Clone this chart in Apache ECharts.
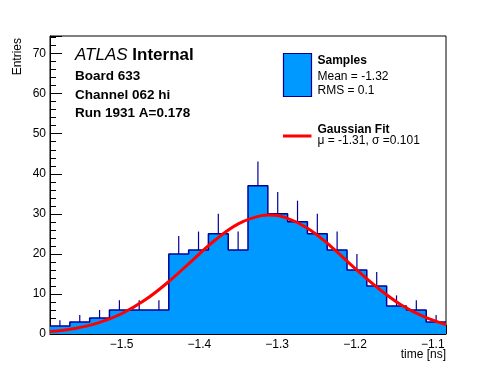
<!DOCTYPE html>
<html>
<head>
<meta charset="utf-8">
<script src="https://cdn.jsdelivr.net/npm/echarts@6/dist/echarts.min.js"></script>
<style>html,body{margin:0;padding:0;background:#fff;}#c{width:496px;height:372px;}</style>
</head>
<body>
<div id="c"></div>
<script>
// ---- data ----
const binEdges = [-1.592, -1.5665, -1.541, -1.5156, -1.49, -1.4647, -1.4393, -1.4138, -1.3884, -1.3629,
                  -1.3375, -1.312, -1.2866, -1.2611, -1.2357, -1.2102, -1.1848, -1.1593, -1.1339, -1.1084, -1.083];
const counts = [2, 3, 4, 6, 6, 6, 20, 21, 25, 21, 37, 30, 28, 25, 21, 16, 12, 7, 6, 3];
const errors = [1.41, 1.73, 2.0, 2.45, 2.45, 2.45, 4.47, 4.58, 5.0, 4.58, 6.08, 5.48, 5.29, 5.0, 4.58, 4.0, 3.46, 2.65, 2.45, 1.73];
const fitX = [-1.592, -1.56, -1.53, -1.50, -1.47, -1.44, -1.41, -1.38, -1.35, -1.32, -1.31, -1.29, -1.26, -1.23, -1.20, -1.17, -1.14, -1.11, -1.083];
const fitY = [0.60, 1.39, 2.77, 5.06, 8.47, 12.98, 18.2, 23.4, 27.5, 29.55, 29.7, 29.1, 26.3, 21.7, 16.4, 11.4, 7.2, 4.2, 2.38];
const yTicks = [0, 10, 20, 30, 40, 50, 60, 70];
const xRange = [-1.592, -1.083];
const yRange = [0, 74.4];

// ---- build series data ----
const stepData = counts.map((c, i) => [binEdges[i], c]);
stepData.push([binEdges[binEdges.length - 1], counts[counts.length - 1]]);
const errData = counts.map((c, i) => [(binEdges[i] + binEdges[i + 1]) / 2, c, errors[i]]);
const fitData = fitX.map((x, i) => [x, fitY[i]]);

const FONT = 'Liberation Sans, Arial, Helvetica, sans-serif';
const NAVY = '#000099';
const BLUE = '#0099ff';

const chart = echarts.init(document.getElementById('c'), null, {renderer: 'canvas'});
const fmt = v => (Math.abs(v) < 1e-9 ? '0' : String(v)).replace('-', '\u2212');

chart.setOption({
  animation: false,
  backgroundColor: '#fff',
  grid: {left: 50, right: 50, top: 36, bottom: 38, show: true, borderColor: '#000', borderWidth: 1, backgroundColor: 'transparent', containLabel: false},
  xAxis: {
    type: 'value', min: xRange[0], max: xRange[1], splitNumber: 5,
    axisLine: {show: true, onZero: false, lineStyle: {color: '#000', width: 1}},
    axisTick: {show: true, inside: true, length: 9, lineStyle: {color: '#000'}},
    minorTick: {show: true, splitNumber: 5, length: 4.5, lineStyle: {color: '#000'}},
    splitLine: {show: false},
    axisLabel: {color: '#000', fontSize: 12, fontFamily: FONT, margin: 5, showMinLabel: false, showMaxLabel: false,
      formatter: v => fmt(Number(v).toFixed(1))}
  },
  yAxis: {
    type: 'value', min: yRange[0], max: yRange[1], interval: 10,
    axisLine: {show: true, lineStyle: {color: '#000', width: 1}},
    axisTick: {show: true, inside: true, length: 12, lineStyle: {color: '#000'}},
    minorTick: {show: true, splitNumber: 5, length: 6, lineStyle: {color: '#000'}},
    splitLine: {show: false},
    axisLabel: {color: '#000', fontSize: 12, fontFamily: FONT, margin: 4, showMaxLabel: false,
      formatter: v => (yTicks.indexOf(Math.round(v)) >= 0 && Math.abs(v - Math.round(v)) < 1e-6) ? String(Math.round(v)) : ''}
  },
  series: [
    {
      type: 'line', name: 'Samples', step: 'end', data: stepData, symbol: 'none', z: 2,
      lineStyle: {color: NAVY, width: 1.5},
      areaStyle: {color: BLUE, opacity: 1}
    },
    {
      type: 'custom', name: 'errors', data: errData, z: 3,
      renderItem: (params, api) => {
        const p0 = api.coord([api.value(0), api.value(1)]);
        const p1 = api.coord([api.value(0), api.value(1) + api.value(2)]);
        return {type: 'line', shape: {x1: p0[0], y1: p0[1], x2: p1[0], y2: p1[1]},
          style: {stroke: NAVY, lineWidth: 1.2}};
      }
    },
    {
      type: 'line', name: 'Gaussian Fit', data: fitData, smooth: 0.4, symbol: 'none', z: 4,
      lineStyle: {color: '#ff0000', width: 3}
    }
  ],
  graphic: [
    {type: 'text', x: 75, y: 55.6, style: {
      text: '{i|ATLAS} {b|Internal}', verticalAlign: 'middle', align: 'left',
      rich: {i: {fontStyle: 'italic', fontSize: 17, fontFamily: FONT, fill: '#000'},
             b: {fontWeight: 'bold', fontSize: 17, fontFamily: FONT, fill: '#000'}},
      font: '17px ' + FONT}},
    {type: 'text', x: 75, y: 76.5, style: {text: 'Board 633', font: 'bold 13.5px ' + FONT, fill: '#000', verticalAlign: 'middle'}},
    {type: 'text', x: 75, y: 95.3, style: {text: 'Channel 062 hi', font: 'bold 13.5px ' + FONT, fill: '#000', verticalAlign: 'middle'}},
    {type: 'text', x: 75, y: 113.6, style: {text: 'Run 1931 A=0.178', font: 'bold 13.5px ' + FONT, fill: '#000', verticalAlign: 'middle'}},
    {type: 'rect', shape: {x: 283.5, y: 53.5, width: 28, height: 43}, style: {fill: BLUE, stroke: NAVY, lineWidth: 1.2}},
    {type: 'text', x: 317.5, y: 61, style: {text: 'Samples', font: 'bold 12px ' + FONT, fill: '#000', verticalAlign: 'middle'}},
    {type: 'text', x: 317.5, y: 76.5, style: {text: 'Mean = -1.32', font: '12px ' + FONT, fill: '#000', verticalAlign: 'middle'}},
    {type: 'text', x: 317.5, y: 90.5, style: {text: 'RMS = 0.1', font: '12px ' + FONT, fill: '#000', verticalAlign: 'middle'}},
    {type: 'line', shape: {x1: 283, y1: 136, x2: 311.5, y2: 136}, style: {stroke: '#ff0000', lineWidth: 3}},
    {type: 'text', x: 317.5, y: 129.5, style: {text: 'Gaussian Fit', font: 'bold 12px ' + FONT, fill: '#000', verticalAlign: 'middle'}},
    {type: 'text', x: 317.5, y: 141, style: {text: '\u03bc = -1.31, \u03c3 =0.101', font: '12px ' + FONT, fill: '#000', verticalAlign: 'middle'}},
    {type: 'text', x: 446, y: 355, style: {text: 'time [ns]', font: '12px ' + FONT, fill: '#000', align: 'right', verticalAlign: 'middle'}},
    {type: 'text', x: 18, y: 38, rotation: Math.PI / 2, style: {text: 'Entries', font: '12px ' + FONT, fill: '#000', align: 'right', verticalAlign: 'middle'}}
  ]
});
</script>
</body>
</html>
